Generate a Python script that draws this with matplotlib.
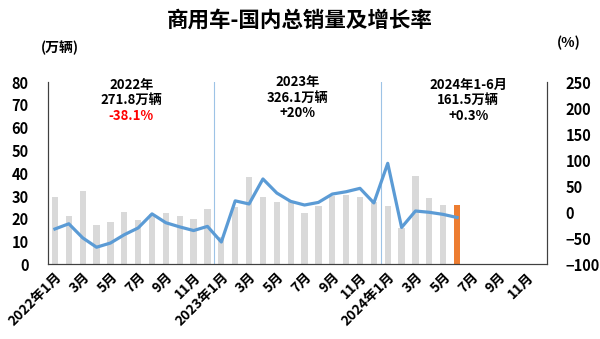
import matplotlib
matplotlib.use("Agg")
from matplotlib import pyplot as plt

plt.rcParams['font.family'] = ['Noto Sans CJK SC', 'DejaVu Sans']
plt.rcParams['font.weight'] = 'bold'

# 月份标签 (2022.1 - 2024.12)
months = []
for yr in [2022, 2023, 2024]:
    for m in range(1, 13):
        months.append(f"{yr}年{m}月" if m == 1 else f"{m}月")

# 销量 (万辆)
sales_2022 = [29.7, 21.4, 32.0, 17.4, 18.7, 22.9, 19.6, 22.0, 22.6, 21.4, 19.9, 24.3]
sales_2023 = [12.0, 25.4, 38.5, 29.6, 27.3, 27.6, 22.7, 25.7, 30.1, 30.4, 29.6, 27.2]
sales_2024 = [25.5, 15.8, 39.0, 29.0, 26.1, 26.1]

# 同比增长率 (%)
growth_2022 = [-32, -22, -49, -67, -59, -43, -30, -3, -20, -28, -35, -27]
growth_2023 = [-57, 22, 16, 64, 37, 21, 14, 19, 35, 39.5, 46, 18]
growth_2024 = [94, -29, 2.5, 0, -4, -10]

sales = sales_2022 + sales_2023 + sales_2024
growth = growth_2022 + growth_2023 + growth_2024

left_ticks = [0, 10, 20, 30, 40, 50, 60, 70, 80]
right_ticks = [-100, -50, 0, 50, 100, 150, 200, 250]

fig = plt.figure(figsize=(6, 3.39), dpi=100)
ax = fig.add_axes([0.08, 0.22, 0.832, 0.538])
ax2 = ax.twinx()

x = list(range(len(sales)))
colors = ['#d9d9d9'] * (len(sales) - 1) + ['#ed7d31']
ax.bar(x, sales, width=0.45, color=colors, zorder=2)

ax2.plot(x, growth, color='#5b9bd5', linewidth=2.3, zorder=3)

# 年份分隔线
for sep in [11.5, 23.5]:
    ax.axvline(sep, color='#9dc3e6', linewidth=0.8, zorder=1)

ax.set_xlim(-0.5, len(months) - 0.5)
ax.set_ylim(0, 80)
ax2.set_ylim(-100, 250)
ax.set_yticks(left_ticks)
ax2.set_yticks(right_ticks)
ax.set_xticks(list(range(0, len(months), 2)))
ax.set_xticklabels(months[::2], rotation=45, ha='right', rotation_mode='anchor')

for a in (ax, ax2):
    a.spines['top'].set_visible(False)
    for s in ['left', 'right', 'bottom']:
        a.spines[s].set_color('#404040')
        a.spines[s].set_linewidth(0.8)
    a.tick_params(length=0, labelsize=10.5)
ax.tick_params(axis='y', pad=14)
ax.tick_params(axis='x', pad=4, labelsize=10)
ax2.tick_params(axis='y', pad=13)
ax.set_zorder(ax2.get_zorder() - 1)
ax2.patch.set_visible(False)

# 年度汇总注释
ax.text(5.5, 78.7, "2022年", ha='center', va='center', fontsize=9.5)
ax.text(5.5, 72.0, "271.8万辆", ha='center', va='center', fontsize=9.5)
ax.text(5.5, 65.3, "-38.1%", ha='center', va='center', fontsize=9.5, color='#ff0000')
ax.text(17.5, 79.8, "2023年", ha='center', va='center', fontsize=9.5)
ax.text(17.5, 73.1, "326.1万辆", ha='center', va='center', fontsize=9.5)
ax.text(17.5, 66.4, "+20%", ha='center', va='center', fontsize=9.5)
ax.text(29.8, 78.7, "2024年1-6月", ha='center', va='center', fontsize=9.5)
ax.text(29.8, 72.0, "161.5万辆", ha='center', va='center', fontsize=9.5)
ax.text(29.8, 65.3, "+0.3%", ha='center', va='center', fontsize=9.5)

fig.text(0.5, 0.94, "商用车-国内总销量及增长率", ha='center', va='center', fontsize=15.5)
fig.text(0.1, 0.86, "(万辆)", ha='center', va='center', fontsize=10)
fig.text(0.948, 0.873, "(%)", ha='center', va='center', fontsize=10)

fig.savefig("out.png", dpi=100)
